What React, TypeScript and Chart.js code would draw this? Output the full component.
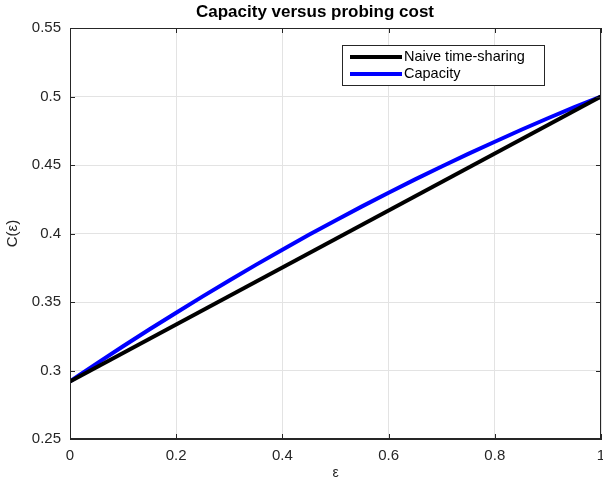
import React, { useEffect, useRef } from "react";
import { Chart, registerables } from "chart.js";

Chart.register(...registerables);

const epsValues = [0, 0.05, 0.1, 0.15, 0.2, 0.25, 0.3, 0.35, 0.4, 0.45, 0.5, 0.55, 0.6, 0.65, 0.7, 0.75, 0.8, 0.85, 0.9, 0.95, 1];
const capacityValues = [0.292, 0.305, 0.3177, 0.3301, 0.3422, 0.3541, 0.3657, 0.3771, 0.3882, 0.399, 0.4095, 0.4198, 0.4298, 0.4395, 0.4489, 0.4581, 0.467, 0.4757, 0.4841, 0.4922, 0.5];
const naiveEps = [0, 1];
const naiveValues = [0.292, 0.5];
const xTicks = [0, 0.2, 0.4, 0.6, 0.8, 1];
const yTicks = [0.25, 0.3, 0.35, 0.4, 0.45, 0.5, 0.55];
const titleText = "Capacity versus probing cost";
const xLabel = "ε";
const yLabel = "C(ε)";
const seriesLabels = ["Naive time-sharing", "Capacity"];

const FONT = "'Liberation Sans', Arial, Helvetica, sans-serif";
const AXIS = "#262626";

const matlabPlugin = {
  id: "matlabDecor",
  afterDraw(chart: any) {
    const ctx = chart.ctx;
    const a = chart.chartArea;
    const xs = chart.scales.x;
    const ys = chart.scales.y;
    ctx.save();
    // box
    ctx.strokeStyle = AXIS;
    ctx.lineWidth = 1;
    ctx.strokeRect(Math.round(a.left) + 0.5, Math.round(a.top) + 0.5, Math.round(a.right - a.left) - 1, Math.round(a.bottom - a.top) - 1);
    // inward ticks
    const tl = 5;
    ctx.beginPath();
    xTicks.forEach((v) => {
      const px = Math.round(xs.getPixelForValue(v)) + 0.5;
      ctx.moveTo(px, a.bottom);
      ctx.lineTo(px, a.bottom - tl);
      ctx.moveTo(px, a.top);
      ctx.lineTo(px, a.top + tl);
    });
    yTicks.forEach((v) => {
      const py = Math.round(ys.getPixelForValue(v)) + 0.5;
      ctx.moveTo(a.left, py);
      ctx.lineTo(a.left + tl, py);
      ctx.moveTo(a.right, py);
      ctx.lineTo(a.right - tl, py);
    });
    ctx.stroke();

    // title
    ctx.fillStyle = "#000";
    ctx.font = `bold 17px ${FONT}`;
    ctx.textAlign = "center";
    ctx.textBaseline = "middle";
    ctx.fillText(titleText, 315, 12);

    // legend
    const lx = 342.5, ly = 45.5, lw = 202, lh = 40;
    ctx.fillStyle = "#fff";
    ctx.fillRect(lx, ly, lw, lh);
    ctx.strokeStyle = AXIS;
    ctx.lineWidth = 1;
    ctx.strokeRect(lx, ly, lw, lh);
    ctx.font = `14.5px ${FONT}`;
    ctx.textAlign = "left";
    ctx.textBaseline = "middle";
    chart.data.datasets.forEach((ds: any, i: number) => {
      const y = 57 + i * 17;
      ctx.strokeStyle = ds.borderColor;
      ctx.lineWidth = 4;
      ctx.beginPath();
      ctx.moveTo(350, y);
      ctx.lineTo(402, y);
      ctx.stroke();
      ctx.fillStyle = "#000";
      ctx.fillText(ds.label, 404, y);
    });
    ctx.restore();
  },
};

export default function App() {
  const ref = useRef<HTMLCanvasElement | null>(null);
  useEffect(() => {
    document.body.style.margin = "0";
    const canvas = ref.current!;
    const chart = new Chart(canvas, {
      type: "line",
      data: {
        datasets: [
          {
            label: seriesLabels[0],
            data: naiveEps.map((x, i) => ({ x, y: naiveValues[i] })),
            borderColor: "#000000",
            borderWidth: 4,
            pointRadius: 0,
            fill: false,
          },
          {
            label: seriesLabels[1],
            data: epsValues.map((x, i) => ({ x, y: capacityValues[i] })),
            borderColor: "#0000ff",
            borderWidth: 4,
            pointRadius: 0,
            fill: false,
            cubicInterpolationMode: "monotone",
          },
        ],
      },
      options: {
        animation: false,
        responsive: false,
        maintainAspectRatio: false,
        devicePixelRatio: 1,
        layout: { padding: { left: 0, right: 2, top: 28, bottom: 0 } },
        plugins: { legend: { display: false }, title: { display: false }, tooltip: { enabled: false } },
        scales: {
          x: {
            type: "linear",
            min: 0,
            max: 1,
            afterBuildTicks: (s: any) => {
              s.ticks = xTicks.map((v) => ({ value: v }));
            },
            afterFit: (s: any) => {
              s.height = 45;
              s.paddingLeft = 0;
              s.paddingRight = 0;
            },
            ticks: {
              font: { family: FONT, size: 15 },
              color: "#262626",
              padding: 8,
              maxRotation: 0,
              callback: (v: any) => String(Number(Number(v).toFixed(2))),
            },
            grid: { color: "#e3e3e3", drawTicks: false, tickLength: 0 },
            border: { display: true, color: AXIS },
            title: { display: true, text: xLabel, font: { family: FONT, size: 14 }, color: "#262626", padding: { top: 0, bottom: 2 } },
          },
          y: {
            type: "linear",
            min: 0.25,
            max: 0.55,
            afterBuildTicks: (s: any) => {
              s.ticks = yTicks.map((v) => ({ value: v }));
            },
            afterFit: (s: any) => {
              s.width = 70;
            },
            ticks: {
              font: { family: FONT, size: 15 },
              color: "#262626",
              padding: 9,
              callback: (v: any) => String(Number(Number(v).toFixed(2))),
            },
            grid: { color: "#e3e3e3", drawTicks: false, tickLength: 0 },
            border: { display: true, color: AXIS },
            title: { display: true, text: yLabel, font: { family: FONT, size: 15 }, color: "#262626", padding: { top: 4, bottom: 0 } },
          },
        },
      },
      plugins: [matlabPlugin],
    } as any);
    return () => chart.destroy();
  }, []);
  return (
    <div style={{ position: "absolute", left: 0, top: 0, width: 603, height: 484, background: "#fff" }}>
      <canvas ref={ref} width={603} height={484} style={{ width: 603, height: 484, display: "block" }} />
    </div>
  );
}
